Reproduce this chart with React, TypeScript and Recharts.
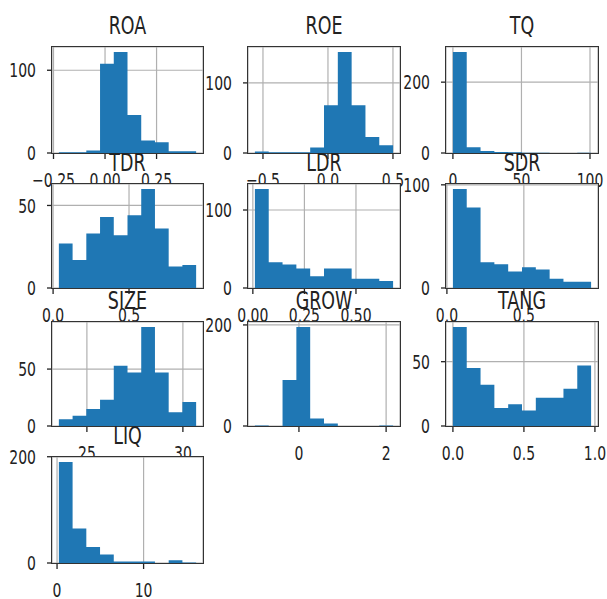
import { AreaChart, Area, XAxis, YAxis, CartesianGrid } from 'recharts'

const NAMES = ['ROA', 'ROE', 'TQ', 'TDR', 'LDR', 'SDR', 'SIZE', 'GROW', 'TANG', 'LIQ']

// counts per bin, 10 bins each
const ROA = [1, 1, 3, 108, 122, 46, 15, 13, 2, 2]
const ROE = [2, 1, 1, 1, 8, 68, 144, 68, 23, 11]
const TQ = [285, 16, 6, 3, 2, 1, 1, 0, 0, 1]
const TDR = [27, 17, 33, 43, 32, 44, 60, 36, 13, 14]
const LDR = [127, 33, 30, 25, 15, 25, 25, 12, 12, 9]
const SDR = [96, 78, 25, 23, 16, 20, 18, 9, 6, 6]
const SIZE = [6, 9, 15, 23, 53, 47, 87, 47, 12, 21]
const GROW = [1, 0, 91, 196, 15, 5, 0, 0, 0, 1]
const TANG = [77, 45, 32, 14, 17, 12, 22, 22, 29, 47]
const LIQ = [190, 65, 30, 16, 3, 3, 3, 0, 5, 1]
const COUNTS = [ROA, ROE, TQ, TDR, LDR, SDR, SIZE, GROW, TANG, LIQ]

// min / max of each variable (first and last bin edge)
const LO = [-0.224, -0.562, 0, 0.038, 0.01, 0.039, 23.54, -1.01, 0, 0.21]
const HI = [0.442, 0.501, 100.8, 0.942, 0.68, 0.937, 30.69, 2.16, 0.973, 16.07]

const X_TICKS = [
  [-0.25, 0, 0.25],
  [-0.5, 0, 0.5],
  [0, 50, 100],
  [0, 0.5],
  [0, 0.25, 0.5],
  [0, 0.5],
  [25, 30],
  [0, 2],
  [0, 0.5, 1],
  [0, 10],
]
const X_DEC = [2, 1, 0, 1, 2, 1, 0, 0, 1, 0]
const Y_TICKS = [
  [0, 100],
  [0, 100],
  [0, 200],
  [0, 50],
  [0, 100],
  [0, 100],
  [0, 50],
  [0, 200],
  [0, 50],
  [0, 200],
]

// layout of the 4x3 grid (plot areas)
const COL_X = [52, 248, 446]
const COL_W = [151, 152, 152]
const ROW_Y = [47, 184, 322, 457]
const ROW_H = [106, 104, 104, 106]
const Y_W = 50
const TOP = 30
const X_H = 40
const RIGHT = 15

const FONT = 'DejaVu Sans'
const SQUEEZE = 0.7

const fmt = (v: number, d: number) => v.toFixed(d).replace('-', '\u2212')

// eslint-disable-next-line @typescript-eslint/no-explicit-any
const YTick = (p: any) => (
  <text
    transform={`translate(${p.x},${p.y}) scale(${SQUEEZE},1)`}
    textAnchor="end"
    dy="0.36em"
    fontSize={20}
    fontFamily={FONT}
    fill="#222"
  >
    {p.payload.value}
  </text>
)

// eslint-disable-next-line @typescript-eslint/no-explicit-any
const XTick = (p: any) => (
  <text
    transform={`translate(${p.x},${p.y}) scale(${SQUEEZE},1)`}
    textAnchor="middle"
    dy={28}
    fontSize={20}
    fontFamily={FONT}
    fill="#222"
  >
    {fmt(p.payload.value, p.dec)}
  </text>
)

function Hist({ idx }: { idx: number }) {
  const row = Math.floor(idx / 3)
  const col = idx % 3
  const w = COL_W[col]
  const h = ROW_H[row]
  const counts = COUNTS[idx]
  const lo = LO[idx]
  const hi = HI[idx]
  const step = (hi - lo) / counts.length
  const data = [...counts, counts[counts.length - 1]].map((c, k) => ({
    x: lo + k * step,
    c,
  }))
  const pad = (hi - lo) * 0.05
  const ymax = Math.max(...counts) * 1.05
  const dec = X_DEC[idx]

  return (
    <div
      style={{
        position: 'absolute',
        left: COL_X[col] - Y_W,
        top: ROW_Y[row] - TOP,
        width: Y_W + w + RIGHT,
        height: TOP + h + X_H,
      }}
    >
      <svg
        width={Y_W + w + RIGHT}
        height={TOP}
        style={{ position: 'absolute', left: 0, top: 0, overflow: 'visible' }}
      >
        <text
          transform={`translate(${Y_W + w / 2},${TOP - 13}) scale(${SQUEEZE},1)`}
          textAnchor="middle"
          fontSize={25}
          fontFamily={FONT}
          fill="#222"
        >
          {NAMES[idx]}
        </text>
      </svg>
      <AreaChart
        width={Y_W + w + RIGHT}
        height={TOP + h + X_H}
        data={data}
        margin={{ top: TOP, right: RIGHT, left: 0, bottom: 0 }}
      >
        <CartesianGrid stroke="#b0b0b0" strokeWidth={1.2} fill="#fff" fillOpacity={1} />
        <XAxis
          dataKey="x"
          type="number"
          domain={[lo - pad, hi + pad]}
          allowDataOverflow
          ticks={X_TICKS[idx]}
          height={X_H}
          axisLine={false}
          tickSize={6}
          tickMargin={0}
          tickLine={{ stroke: '#222', strokeWidth: 1.3 }}
          tick={(p: any) => <XTick {...p} dec={dec} />}
          interval={0}
        />
        <YAxis
          type="number"
          domain={[0, ymax]}
          allowDataOverflow
          ticks={Y_TICKS[idx]}
          width={Y_W}
          axisLine={false}
          tickSize={5}
          tickMargin={11}
          tickLine={{ stroke: '#222', strokeWidth: 1.3 }}
          tick={YTick}
          interval={0}
        />
        <Area
          dataKey="c"
          type="stepAfter"
          fill="#1f77b4"
          fillOpacity={1}
          stroke="none"
          dot={false}
          activeDot={false}
          isAnimationActive={false}
        />
      </AreaChart>
      <div
        style={{
          position: 'absolute',
          left: Y_W - 0.75,
          top: TOP - 0.75,
          width: w + 1.5,
          height: h + 1.5,
          border: '1.5px solid #333',
          boxSizing: 'border-box',
          pointerEvents: 'none',
        }}
      />
    </div>
  )
}

export default function App() {
  return (
    <div style={{ position: 'relative', width: 607, height: 599, background: '#fff' }}>
      <style>{'body{margin:0}'}</style>
      {NAMES.map((_, i) => (
        <Hist key={i} idx={i} />
      ))}
    </div>
  )
}
